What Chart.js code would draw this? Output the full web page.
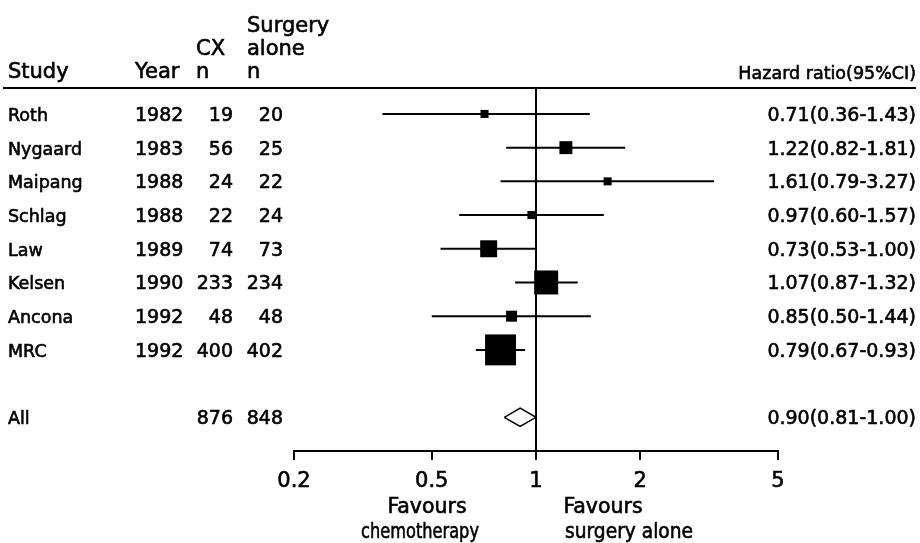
<!DOCTYPE html>
<html>
<head>
<meta charset="utf-8">
<title>Hazard ratio forest plot</title>
<script src="https://cdn.jsdelivr.net/npm/chart.js@4.4.0/dist/chart.umd.min.js"></script>
<style>
  html, body { margin: 0; padding: 0; background: #fff; }
  #wrap { width: 920px; height: 543px; }
</style>
</head>
<body>
<div id="wrap"><canvas id="forestChart"></canvas></div>
<script>
/*
 * 1. DATA
 */
const studies  = ['Roth', 'Nygaard', 'Maipang', 'Schlag', 'Law', 'Kelsen', 'Ancona', 'MRC'];
const years    = [1982, 1983, 1988, 1988, 1989, 1990, 1992, 1992];
const nChemo   = [19, 56, 24, 22, 74, 233, 48, 400];
const nSurgery = [20, 25, 22, 24, 73, 234, 48, 402];
const hazard   = [0.71, 1.22, 1.61, 0.97, 0.73, 1.07, 0.85, 0.79];
const ciLow    = [0.36, 0.82, 0.79, 0.60, 0.53, 0.87, 0.50, 0.67];
const ciHigh   = [1.43, 1.81, 3.27, 1.57, 1.00, 1.32, 1.44, 0.93];
// relative study weight (%)
const weights  = [2.8, 7.3, 2.8, 2.8, 12.5, 25.0, 5.2, 41.6];

// pooled result
const allLabel   = 'All';
const allChemo   = 876;
const allSurgery = 848;
const allHazard  = 0.90;
const allLow     = 0.81;
const allHigh    = 1.00;

const xTicks = [0.2, 0.5, 1, 2, 5];

/*
 * 2. LAYOUT HELPERS
 */
const FONT = 'DejaVu Sans';
const allRow = studies.length + 1;   // one empty row before "All"
const yTop = -0.77;
const yBottom = allRow + 1;
const boxScale = 4.8;                // px of box side per sqrt(weight)
const diamondHalf = 0.27;            // in row units

const fmt = (v) => v.toFixed(2);
const ciText = (h, lo, hi) => `${fmt(h)}(${fmt(lo)}-${fmt(hi)})`;

/*
 * 3. DATASETS
 */
const boxData = hazard.map((h, i) => ({ x: h, y: i }));
const boxRadius = weights.map(w => Math.sqrt(w) * boxScale / (2 * Math.SQRT1_2));

const ciSets = hazard.map((h, i) => ({
    data: [{ x: ciLow[i], y: i }, { x: ciHigh[i], y: i }],
    showLine: true,
    borderColor: '#000',
    borderWidth: 2,
    pointRadius: 0,
    order: 2
}));

const diamond = [
    { x: allLow, y: allRow },
    { x: allHazard, y: allRow - diamondHalf },
    { x: allHigh, y: allRow },
    { x: allHazard, y: allRow + diamondHalf },
    { x: allLow, y: allRow }
];

/*
 * 4. TEXT TABLE, TICK LABELS + TOP RULE
 */
const tablePlugin = {
    id: 'table',
    afterDraw(chart) {
        const { ctx, chartArea, scales: { x, y } } = chart;
        const top = chartArea.top;
        const bottom = chartArea.bottom;
        ctx.save();
        ctx.fillStyle = '#000';
        ctx.strokeStyle = '#000';

        // rule under the header
        ctx.lineWidth = 2;
        ctx.beginPath();
        ctx.moveTo(3, top);
        ctx.lineTo(916, top);
        ctx.stroke();

        // scanned text looks heavy, so stroke it a little too
        ctx.lineWidth = 0.6;
        const put = (txt, px, py, maxW) => {
            if (maxW) {
                ctx.fillText(txt, px, py, maxW);
                ctx.strokeText(txt, px, py, maxW);
            } else {
                ctx.fillText(txt, px, py);
                ctx.strokeText(txt, px, py);
            }
        };

        // header
        ctx.textBaseline = 'alphabetic';
        ctx.textAlign = 'left';
        ctx.font = `21px "${FONT}"`;
        put('Study', 8, top - 10);
        put('Year', 135, top - 10);
        put('CX', 196, top - 33);
        put('n', 196, top - 10);
        put('Surgery', 247, top - 56);
        put('alone', 247, top - 33);
        put('n', 247, top - 10);
        ctx.textAlign = 'right';
        ctx.font = `17.5px "${FONT}"`;
        put('Hazard ratio(95%CI)', 916, top - 9);

        // study rows
        const row = (i, name, year, nc, ns, txt) => {
            const py = y.getPixelForValue(i) + 7;
            ctx.textAlign = 'left';
            ctx.font = `17.5px "${FONT}"`;
            put(name, 8, py);
            ctx.font = `19px "${FONT}"`;
            if (year !== null) put(String(year), 135, py);
            ctx.textAlign = 'right';
            put(String(nc), 233, py);
            put(String(ns), 283, py);
            put(txt, 916, py);
        };
        studies.forEach((s, i) => {
            row(i, s, years[i], nChemo[i], nSurgery[i], ciText(hazard[i], ciLow[i], ciHigh[i]));
        });
        row(allRow, allLabel, null, allChemo, allSurgery, ciText(allHazard, allLow, allHigh));

        // x tick labels
        ctx.font = `21px "${FONT}"`;
        ctx.textAlign = 'center';
        xTicks.forEach(v => put(String(v), x.getPixelForValue(v), bottom + 36));

        // favours labels
        ctx.font = `20.5px "${FONT}"`;
        put('Favours', 427, bottom + 62);
        put('chemotherapy', 420, bottom + 87, 118);
        put('Favours', 603, bottom + 62);
        ctx.textAlign = 'left';
        put('surgery alone', 565, bottom + 87, 128);
        ctx.restore();
    }
};

/*
 * 5. CHART
 */
Chart.defaults.font.family = FONT;
Chart.defaults.color = '#000';

const ctx = document.getElementById('forestChart').getContext('2d');
const forestChart = new Chart(ctx, {
    type: 'scatter',
    data: {
        datasets: [
            {
                data: boxData,
                pointStyle: 'rect',
                pointRadius: boxRadius,
                pointBackgroundColor: '#000',
                pointBorderWidth: 0,
                order: 0
            },
            ...ciSets,
            {
                // line of no effect
                data: [{ x: 1, y: yTop }, { x: 1, y: yBottom }],
                showLine: true,
                borderColor: '#000',
                borderWidth: 2,
                pointRadius: 0,
                order: 3
            },
            {
                data: diamond,
                showLine: true,
                borderColor: '#000',
                borderWidth: 1.5,
                fill: false,
                pointRadius: 0,
                order: 1
            }
        ]
    },
    options: {
        responsive: true,
        maintainAspectRatio: false,
        animation: false,
        layout: { padding: { left: 294, right: 142, top: 88, bottom: 83 } },
        plugins: { legend: { display: false }, tooltip: { enabled: false } },
        scales: {
            x: {
                type: 'logarithmic',
                min: 0.2,
                max: 5,
                afterBuildTicks: (scale) => { scale.ticks = xTicks.map(v => ({ value: v })); },
                ticks: { display: false },
                grid: {
                    display: true,
                    drawOnChartArea: false,
                    drawTicks: true,
                    tickLength: 9,
                    color: '#000',
                    lineWidth: 2
                },
                border: { display: true, color: '#000', width: 2 }
            },
            y: {
                type: 'linear',
                display: false,
                reverse: true,
                min: yTop,
                max: yBottom
            }
        }
    },
    plugins: [tablePlugin]
});
</script>
</body>
</html>
